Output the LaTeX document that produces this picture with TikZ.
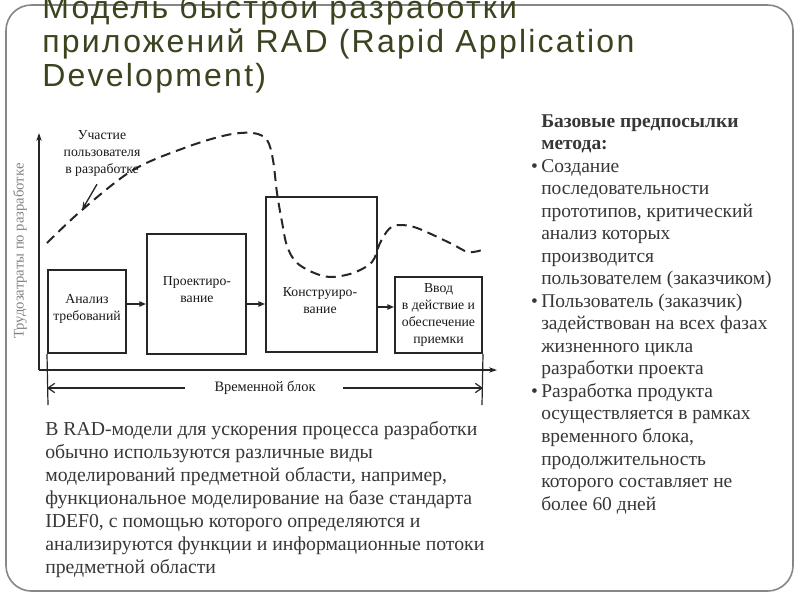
\documentclass[tikz,border=0pt]{standalone}
\usepackage{fontspec}
\setmainfont{Liberation Serif}
\newfontfamily\titlefont[LetterSpace=7]{Liberation Sans}
\usetikzlibrary{arrows.meta}
\definecolor{titlecol}{RGB}{58,68,30}
\definecolor{txtcol}{RGB}{55,55,55}
\definecolor{framecol}{RGB}{135,135,135}
\definecolor{axlabel}{RGB}{130,130,130}
\begin{document}
\begin{tikzpicture}[x=0.75pt,y=-0.75pt,
  boxst/.style={draw=black!85, line width=1.5pt, inner sep=0pt},
  dtext/.style={font=\fontsize{10.3}{12.75}\selectfont, align=center, text=black!90, inner sep=0pt},
  ttl/.style={font=\titlefont\fontsize{24}{28}\selectfont, text=titlecol, anchor=base west, inner sep=0pt},
  body/.style={font=\fontsize{14.6}{16.9}\selectfont, text=txtcol, align=left, inner sep=0pt, anchor=north west},
  flow/.style={-{Triangle[length=5pt,width=4pt]}, line width=1pt, draw=black!85},
  axis/.style={-{Stealth[length=6pt,width=4pt]}, line width=0.9pt, draw=black!85},
  dashcurve/.style={dash pattern=on 7.5pt off 4.5pt, line width=1.5pt, draw=black!85}
]
\path[use as bounding box, fill=white] (0,0) rectangle (800,600);
% frame
\draw[framecol, line width=1.2pt, rounded corners=19pt] (6,5) rectangle (793,591);
% title
\node[ttl] (t1) at (42,18) {Модель быстрой разработки};
\node[ttl] (t2) at (42,52) {приложений RAD (Rapid Application};
\node[ttl] (t3) at (42,86) {Development)};
% axes
\coordinate (o) at (39,370);
\coordinate (ytop) at (39,133);
\coordinate (xend) at (497,370);
\draw[axis] (o) -- (ytop);
\draw[axis] (o) -- (xend);
\node[font=\fontsize{11}{12}\selectfont, text=axlabel, rotate=90, inner sep=0pt] (ylab) at (20,251) {Трудозатраты по разработке};
% boxes
\node[boxst, minimum width=58.5pt, minimum height=62.25pt] (b1) at (87,311.5) {};
\node[boxst, minimum width=74.25pt, minimum height=90pt] (b2) at (196.5,294) {};
\node[boxst, minimum width=83.25pt, minimum height=116.25pt] (b3) at (321.5,274.5) {};
\node[boxst, minimum width=65.25pt, minimum height=57pt] (b4) at (438.5,315) {};
\node[dtext] (l1) at (87,309) {Анализ\\требований};
\node[dtext] (l2) at (197,290) {Проектиро-\\вание};
\node[dtext] (l3) at (320,301) {Конструиро-\\вание};
\node[dtext] (l4) at (438.5,315) {Ввод\\в действие и\\обеспечение\\приемки};
\draw[flow] (b1.east |- 0,304) -- (b2.west |- 0,304);
\draw[flow] (b2.east |- 0,304) -- (b3.west |- 0,304);
\draw[flow] (b3.east |- 0,307) -- (b4.west |- 0,307);
% time block
\coordinate (tbl) at (48,405);
\coordinate (tbr) at (482,405);
\draw[line width=0.9pt, black!85] (b1.south west) -- (tbl);
\draw[line width=0.9pt, black!85] (b4.south east) -- (tbr);
\node[dtext, font=\fontsize{10.8}{12}\selectfont] (tb) at (265,388) {Временной блок};
\coordinate (tbla) at (185,388);
\coordinate (tbra) at (343,388);
\draw[line width=0.9pt, black!85, -{Straight Barb[length=5pt,width=7pt]}] (tbla) -- (b1.west |- tb);
\draw[line width=0.9pt, black!85, -{Straight Barb[length=5pt,width=7pt]}] (tbra) -- (b4.east |- tb);
% user participation curve
\draw[dashcurve] plot[smooth, tension=0.55] coordinates {
 (47,243) (82,210) (133,170) (187,147) (227,135) (253,133) (267,140) (273,160)
 (277,193) (282,222) (287,246) (296,262) (312,272) (330,277) (353,273) (372,262)
 (380,243) (389,229) (399,225) (417,228) (450,243) (468,252) (482,250)};
\node[dtext] (lu) at (102,153) {Участие\\пользователя\\в разработке};
\coordinate (lua) at (82,210);
\draw[line width=1pt, black!85, -{Stealth[length=6pt,width=4.5pt]}] (lu.south -| 97,0) ++(0,8) -- (lua);
% right text
\node[body] (rt) at (541,114) {\textbf{Базовые предпосылки}\\\textbf{метода:}\\
\llap{•\hspace{2.5pt}}Создание\\
последовательности\\
прототипов, критический\\
анализ которых\\
производится\\
пользователем (заказчиком)\\
\llap{•\hspace{2.5pt}}Пользователь (заказчик)\\
задействован на всех фазах\\
жизненного цикла\\
разработки проекта\\
\llap{•\hspace{2.5pt}}Разработка продукта\\
осуществляется в рамках\\
временного блока,\\
продолжительность\\
которого составляет не\\
более 60 дней};
% bottom text
\node[body, font=\fontsize{14.8}{17.25}\selectfont] (bt) at (45,421) {В RAD-модели для ускорения процесса разработки\\
обычно используются различные виды\\
моделирований предметной области, например,\\
функциональное моделирование на базе стандарта\\
IDEF0, с помощью которого определяются и\\
анализируются функции и информационные потоки\\
предметной области};
\end{tikzpicture}
\end{document}
